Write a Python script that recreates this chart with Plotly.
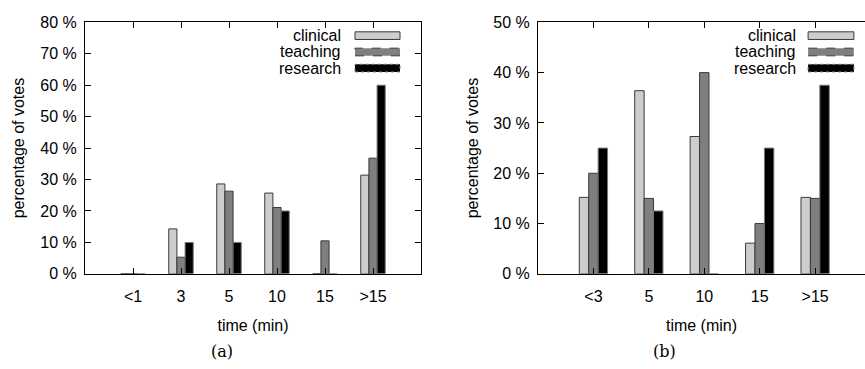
import plotly.graph_objects as go

# ---- data ----
cats_a = ["<1", "3", "5", "10", "15", ">15"]
clinical_a = [0, 14.3, 28.6, 25.7, 0, 31.4]
teaching_a = [0, 5.3, 26.3, 21.1, 10.5, 36.8]
research_a = [0, 10, 10, 20, 0, 60]

cats_b = ["<3", "5", "10", "15", ">15"]
clinical_b = [15.2, 36.4, 27.3, 6.1, 15.2]
teaching_b = [20, 15, 40, 10, 15]
research_b = [25, 12.5, 0, 25, 37.5]

series_names = ["clinical", "teaching", "research"]
fills = ["#cdcdcd", "#7f7f7f", "#000000"]
borders = ["#3a3a3a", "#3a3a3a", "#7a7a7a"]
dashes = ["solid", "dash", "dot"]

FONT = "Liberation Sans, Arial, sans-serif"
fs = 16

fig = go.Figure()
for vals, c, b, n in zip([clinical_a, teaching_a, research_a], fills, borders, series_names):
    fig.add_trace(go.Bar(x=cats_a, y=vals, name=n, marker=dict(color=c, line=dict(color=b, width=1)),
                         xaxis="x", yaxis="y", showlegend=False))
for vals, c, b, n in zip([clinical_b, teaching_b, research_b], fills, borders, series_names):
    fig.add_trace(go.Bar(x=cats_b, y=vals, name=n, marker=dict(color=c, line=dict(color=b, width=1)),
                         xaxis="x2", yaxis="y2", showlegend=False))

W, H = 865, 369
ytop, ybot = 15, 278.7
ydom = [1 - ybot / H, 1 - ytop / H]

axis_common = dict(showline=True, linecolor="black", linewidth=1, ticks="inside", ticklen=6,
                   tickcolor="black", showgrid=False, zeroline=False,
                   tickfont=dict(family=FONT, size=fs, color="black"))

fig.update_layout(
    width=W, height=H, margin=dict(l=0, r=0, t=0, b=0),
    plot_bgcolor="white", paper_bgcolor="white",
    barmode="group", bargap=0.49, bargroupgap=0,
    font=dict(family=FONT, size=fs, color="black"),
    xaxis=dict(domain=[85 / W, 421 / W], anchor="y", type="category", range=[-1, 6],
               mirror="ticks", ticklabelstandoff=8,
               title=dict(text="time (min)", standoff=15, font=dict(size=fs)), **axis_common),
    yaxis=dict(domain=ydom, anchor="x", range=[0, 80], dtick=10, ticksuffix=" %", mirror="ticks",
               ticklabelstandoff=4,
               title=dict(text="percentage of votes", standoff=11, font=dict(size=fs)), **axis_common),
    xaxis2=dict(domain=[538 / W, 1.0], anchor="y2", type="category", range=[-1, 4.9],
                mirror="ticks", ticklabelstandoff=8,
                title=dict(text="time (min)", standoff=15, font=dict(size=fs)), **axis_common),
    yaxis2=dict(domain=ydom, anchor="x2", range=[0, 50], dtick=10, ticksuffix=" %", mirror=False,
                ticklabelstandoff=4,
                title=dict(text="percentage of votes", standoff=10, font=dict(size=fs)), **axis_common),
)

# custom gnuplot-style key: text right-aligned, sample box to the right
row_y = [0.947, 0.882, 0.818]
half = 0.0152
for xa, ya, txt_x, bx0, bx1 in [("x", "y", 0.768, 0.8036, 0.9375), ("x2", "y2", 0.795, 0.826, 0.966)]:
    for n, c, b, d, yy in zip(series_names, fills, borders, dashes, row_y):
        fig.add_annotation(xref=f"{xa} domain", yref=f"{ya} domain", x=txt_x, y=yy, text=n,
                           showarrow=False, xanchor="right", yanchor="middle",
                           font=dict(family=FONT, size=fs, color="black"))
        fig.add_shape(type="rect", xref=f"{xa} domain", yref=f"{ya} domain", x0=bx0, x1=bx1,
                      y0=yy - half, y1=yy + half, fillcolor=c, line=dict(color=b, width=1, dash=d))

for txt, xc in [("(a)", 222 / W), ("(b)", 664 / W)]:
    fig.add_annotation(xref="paper", yref="paper", x=xc, y=1 - 360 / H, text=txt, showarrow=False,
                       xanchor="center", yanchor="middle",
                       font=dict(family="DejaVu Serif, Liberation Serif, serif", size=16, color="black"))

fig.write_html("out.html")
